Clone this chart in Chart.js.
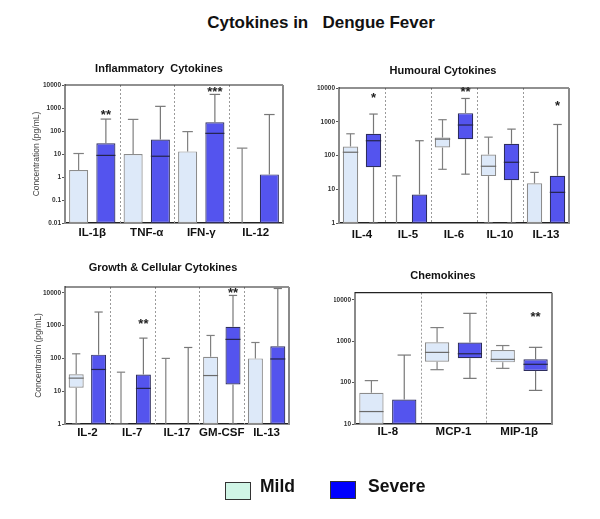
<!DOCTYPE html>
<html>
<head>
<meta charset="utf-8">
<title>Cytokines in Dengue Fever</title>
<script src="https://cdn.jsdelivr.net/npm/chart.js@4.4.0/dist/chart.umd.min.js"></script>
<style>
  body { margin: 0; background: #fff; font-family: "Liberation Sans", Arial, sans-serif; }
  #page { position: relative; width: 600px; height: 519px; overflow: hidden; }
  #page canvas { position: absolute; left: 0; top: 0; }
  .main-title { position: absolute; left: 0; top: 14px; width: 642px; text-align: center;
    font-size: 17px; line-height: 17px; font-weight: bold; color: #111; white-space: pre; }
  .key { position: absolute; width: 24px; height: 16px; border: 1px solid #333; }
  .key-text { position: absolute; top: 478px; font-size: 17.5px; line-height: 17.5px; font-weight: bold; color: #111; }
</style>
</head>
<body>
<div id="page">
  <div class="main-title">Cytokines in   Dengue Fever</div>
  <canvas id="inflam" width="600" height="519"></canvas>
  <canvas id="humoural" width="600" height="519"></canvas>
  <canvas id="growth" width="600" height="519"></canvas>
  <canvas id="chemo" width="600" height="519"></canvas>
  <div class="key" style="left:225px; top:482px; background:#d0f5e6;"></div>
  <div class="key-text" style="left:260px;">Mild</div>
  <div class="key" style="left:330px; top:481px; background:#0000ff;"></div>
  <div class="key-text" style="left:368px;">Severe</div>
</div>
<script>
// every box is [min, q1, median, q3, max] in pg/mL

var inflamLabels = ['IL-1β', 'TNF-α', 'IFN-γ', 'IL-12'];
var inflamMild = [
  [0.01, 0.01, 0.01, 2, 10.5],
  [0.01, 0.01, 0.01, 10, 320],
  [0.01, 0.01, 0.01, 13, 94],
  [0.01, 0.01, 0.01, 0.01, 18]
];
var inflamSevere = [
  [0.01, 0.01, 8.7, 29, 330],
  [0.01, 0.01, 8, 43, 1180],
  [0.01, 0.01, 79, 240, 3900],
  [0.01, 0.01, 0.01, 1.3, 520]
];
var inflamStars = ['**', '', '***', ''];
var inflamStarAt = [500, null, 5000, null];
var inflamTicks = [0.01, 0.1, 1, 10, 100, 1000, 10000];

var humLabels = ['IL-4', 'IL-5', 'IL-6', 'IL-10', 'IL-13'];
var humMild = [
  [1, 1, 125, 185, 440],
  [1, 1, 1, 1, 25],
  [39, 172, 305, 340, 1150],
  [1, 24.5, 48, 107, 350],
  [1, 1, 1, 15, 31.6]
];
var humSevere = [
  [1, 45, 274, 440, 1690],
  [1, 1, 1, 7, 274],
  [28, 305, 800, 1800, 4900],
  [1, 18.6, 63, 222, 605],
  [1, 1, 8.1, 25, 830]
];
var humStars = ['*', '', '**', '', '*'];
var humStarAt = [4800, null, 7200, null, 2800];
var humTicks = [1, 10, 100, 1000, 10000];

var growthLabels = ['IL-2', 'IL-7', 'IL-17', 'GM-CSF', 'IL-13'];
var growthMild = [
  [1, 12.8, 25, 33, 138],
  [1, 1, 1, 1.05, 38],
  [1, 1, 1, 1, 100],
  [1, 1, 30, 112, 500],
  [1, 1, 1, 100, 305]
];
var growthSevere = [
  [1, 1, 46, 130, 2590],
  [1, 1, 12.2, 32, 415],
  [1, 1, 1, 1, 215],
  [1, 16, 380, 920, 8300],
  [1, 1, 96, 233, 13500]
];
var growthStars = ['', '**', '', '**', ''];
var growthStarAt = [null, 1050, null, 9800, null];
var growthTicks = [1, 10, 100, 1000, 10000];

var chemoLabels = ['IL-8', 'MCP-1', 'MIP-1β'];
var chemoMild = [
  [10, 10, 20, 57, 112],
  [206, 320, 540, 950, 2150],
  [222, 310, 366, 616, 790]
];
var chemoSevere = [
  [10, 10, 10, 39, 465],
  [127, 390, 500, 930, 4750],
  [65, 192, 278, 366, 715]
];
var chemoStars = ['', '', '**'];
var chemoStarAt = [null, null, 3700];
var chemoTicks = [10, 100, 1000, 10000];

var FONT = '"Liberation Sans", Arial, sans-serif';

function boxPart(stats) {
  return stats.map(function(s) { return s[3] > s[1] ? [s[1], s[3]] : null; });
}

function line(ctx, x1, y1, x2, y2) {
  ctx.beginPath();
  ctx.moveTo(x1, y1);
  ctx.lineTo(x2, y2);
  ctx.stroke();
}

var whiskerPlugin = {
  id: 'whiskers',
  beforeDatasetsDraw: function(chart) {
    var ctx = chart.ctx, xs = chart.scales.x, area = chart.chartArea;
    ctx.save();
    ctx.strokeStyle = '#9a9a9a';
    ctx.lineWidth = 1;
    ctx.setLineDash([2, 2]);
    for (var i = 0; i < chart.data.labels.length - 1; i++) {
      var sx = Math.round((xs.getPixelForValue(i) + xs.getPixelForValue(i + 1)) / 2) + 0.5;
      line(ctx, sx, area.top, sx, area.bottom);
    }
    ctx.restore();
  },
  afterDatasetsDraw: function(chart, args, opts) {
    var ctx = chart.ctx, ys = chart.scales.y, area = chart.chartArea;
    ctx.save();
    chart.data.datasets.forEach(function(ds, di) {
      var meta = chart.getDatasetMeta(di);
      ds.stats.forEach(function(s, i) {
        var el = meta.data[i];
        var x = el.x, w = el.width, cap = w * 0.55;
        var pMin = ys.getPixelForValue(s[0]), pQ1 = ys.getPixelForValue(s[1]);
        var pMed = ys.getPixelForValue(s[2]), pQ3 = ys.getPixelForValue(s[3]);
        var pMax = ys.getPixelForValue(s[4]);
        ctx.strokeStyle = ds.whiskerColor;
        ctx.lineWidth = 1.2;
        line(ctx, x, pQ3, x, pMax);
        line(ctx, x - cap / 2, pMax, x + cap / 2, pMax);
        if (s[0] < s[1]) {
          line(ctx, x, pQ1, x, pMin);
          line(ctx, x - cap / 2, pMin, x + cap / 2, pMin);
        }
        if (s[3] > s[1] && s[2] > s[1]) {
          ctx.strokeStyle = ds.medianColor;
          line(ctx, x - w / 2, pMed, x + w / 2, pMed);
        }
      });
    });
    // significance marks over the severe boxes
    var sev = chart.getDatasetMeta(1);
    ctx.fillStyle = '#222';
    ctx.font = 'bold 13px ' + FONT;
    ctx.textAlign = 'center';
    ctx.textBaseline = 'middle';
    opts.stars.forEach(function(st, i) {
      if (!st) return;
      ctx.fillText(st, sev.data[i].x, ys.getPixelForValue(opts.starAt[i]));
    });
    // frame: top and right edges
    ctx.strokeStyle = '#222';
    ctx.lineWidth = 1.2;
    line(ctx, area.left, area.top, area.right, area.top);
    ctx.strokeStyle = '#8a8a8a';
    ctx.lineWidth = 2;
    line(ctx, area.right, area.top, area.right, area.bottom);
    ctx.restore();
  }
};

function makePanel(id, title, labels, mild, severe, stars, starAt, ticks, yMin, yMax, look) {
  return new Chart(document.getElementById(id), {
    type: 'bar',
    data: {
      labels: labels,
      datasets: [
        {
          label: 'Mild', data: boxPart(mild), stats: mild,
          backgroundColor: '#dde9f9', borderColor: '#8c8c8c', borderWidth: 1.2, borderSkipped: false,
          whiskerColor: '#808080', medianColor: '#6a6a6a',
          barPercentage: look.barPct, categoryPercentage: 1
        },
        {
          label: 'Severe', data: boxPart(severe), stats: severe,
          backgroundColor: '#5454ee', borderColor: '#2e2e5e', borderWidth: 1.2, borderSkipped: false,
          whiskerColor: '#777777', medianColor: '#24244a',
          barPercentage: look.barPct, categoryPercentage: 1
        }
      ]
    },
    options: {
      responsive: false,
      animation: false,
      events: [],
      layout: { padding: { left: look.padLeft, right: 600 - look.right, top: 0, bottom: look.padBottom } },
      plugins: {
        legend: { display: false },
        tooltip: { enabled: false },
        title: {
          display: true, text: title, color: '#111',
          font: { size: 11, weight: 'bold', family: FONT },
          padding: { top: look.titleTop, bottom: look.titleBottom }
        },
        whiskers: { stars: stars, starAt: starAt }
      },
      scales: {
        x: {
          type: 'category', offset: true,
          grid: { display: false, drawTicks: false },
          border: { color: '#222', width: 1.5 },
          ticks: { color: '#111', font: { size: 11.5, weight: 'bold', family: FONT },
                   padding: look.xPad, maxRotation: 0, autoSkip: false },
          afterFit: function(s) { s.height = 20; }
        },
        y: {
          type: 'logarithmic', min: yMin, max: yMax,
          grid: { drawOnChartArea: false, drawTicks: true, tickLength: 3, color: '#555' },
          border: { color: '#8a8a8a', width: 2 },
          ticks: { color: '#333', font: { size: 6.5, weight: 'bold', family: FONT }, padding: 1,
                   autoSkip: false, callback: function(v) { return String(v); } },
          title: { display: look.yTitle, text: 'Concentration (pg/mL)', color: '#444',
                   font: { size: 8.5, family: FONT }, padding: { top: -3.4, bottom: 0 } },
          afterBuildTicks: function(s) { s.ticks = ticks.map(function(v) { return { value: v }; }); },
          afterFit: function(s) { s.width = look.yWidth; }
        }
      }
    },
    plugins: [whiskerPlugin]
  });
}

makePanel('inflam', 'Inflammatory  Cytokines', inflamLabels, inflamMild, inflamSevere,
  inflamStars, inflamStarAt, inflamTicks, 0.01, 10000,
  { padLeft: 35, yWidth: 30, right: 283, titleTop: 62.4, titleBottom: 9.4, padBottom: 276, xPad: 3, barPct: 0.7, yTitle: true });

makePanel('humoural', 'Humoural Cytokines', humLabels, humMild, humSevere,
  humStars, humStarAt, humTicks, 1, 10000,
  { padLeft: 317, yWidth: 22, right: 569, titleTop: 64.4, titleBottom: 10.4, padBottom: 276, xPad: 5, barPct: 0.67, yTitle: false });

makePanel('growth', 'Growth & Cellular Cytokines', growthLabels, growthMild, growthSevere,
  growthStars, growthStarAt, growthTicks, 1, 15000,
  { padLeft: 37, yWidth: 28, right: 289, titleTop: 261.4, titleBottom: 12.4, padBottom: 75, xPad: 2, barPct: 0.67, yTitle: true });

makePanel('chemo', 'Chemokines', chemoLabels, chemoMild, chemoSevere,
  chemoStars, chemoStarAt, chemoTicks, 10, 15000,
  { padLeft: 334, yWidth: 21, right: 552, titleTop: 269.4, titleBottom: 10.1, padBottom: 75, xPad: 1, barPct: 0.74, yTitle: false });
</script>
</body>
</html>
